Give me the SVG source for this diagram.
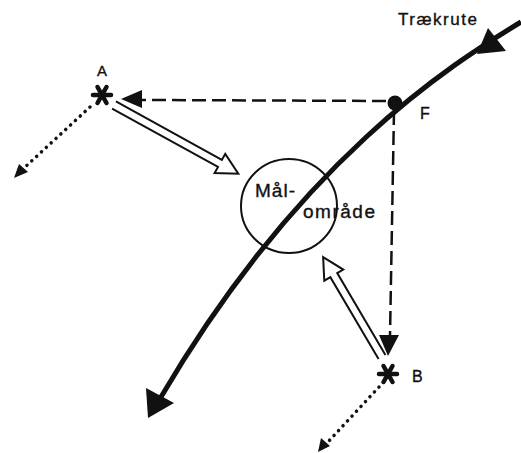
<svg xmlns="http://www.w3.org/2000/svg" width="521" height="453" viewBox="0 0 521 453">
<style>
.lbl{font-family:"Liberation Sans",Arial,sans-serif;fill:#111;stroke:#111;stroke-width:0.35;}
.dash{fill:none;stroke:#111;stroke-width:2.5;stroke-dasharray:14 6;}
.dot{fill:none;stroke:#111;stroke-width:3.5;stroke-linecap:round;stroke-dasharray:0.1 6.5;}
.hollow{fill:#fff;stroke:#111;stroke-width:2;stroke-linejoin:miter;}
.fillhead{fill:#111;}
.ast line{stroke:#111;stroke-width:4.5;stroke-linecap:round;}
</style>
<rect width="521" height="453" fill="#fff"/>
<g id="target-area">
<ellipse cx="289" cy="206" rx="48" ry="47" fill="none" stroke="#111" stroke-width="2"/>
<text class="lbl" x="255" y="197" font-size="19" textLength="40" lengthAdjust="spacing">Mål-</text>
<text class="lbl" x="303" y="218" font-size="19" textLength="72" lengthAdjust="spacing">område</text>
</g>
<g id="route">
<path d="M521,22 C450,65 300,160 161,397" fill="none" stroke="#111" stroke-width="5"/>
<polygon class="fillhead" points="488,28 506,51 477,54"/>
<polygon class="fillhead" points="146,388 174,403 148,418"/>
<text class="lbl" x="398" y="25" font-size="17" textLength="79" lengthAdjust="spacing">Trækrute</text>
</g>
<g id="F">
<circle cx="395" cy="103" r="7.5" fill="#111"/>
<text class="lbl" x="420" y="119" font-size="16">F</text>
</g>
<g id="A">
<g class="ast" transform="translate(102,95)">
<line x1="-9" y1="0" x2="9" y2="0"/>
<line x1="-4.5" y1="-8" x2="4.5" y2="8"/>
<line x1="4.5" y1="-8" x2="-4.5" y2="8"/>
</g>
<text class="lbl" x="97" y="76" font-size="15">A</text>
</g>
<g id="B">
<g class="ast" transform="translate(388,374)">
<line x1="-9" y1="0" x2="9" y2="0"/>
<line x1="-4.5" y1="-8" x2="4.5" y2="8"/>
<line x1="4.5" y1="-8" x2="-4.5" y2="8"/>
</g>
<text class="lbl" x="412" y="382" font-size="16">B</text>
</g>
<g id="connectors">
<line class="dash" x1="386" y1="101" x2="142" y2="100"/>
<polygon class="fillhead" points="121,99 142,90 142,108"/>
<line class="dash" x1="394" y1="111" x2="390" y2="336"/>
<polygon class="fillhead" points="379,335 399,335 388,356"/>
<line class="dot" x1="90" y1="107" x2="24" y2="168"/>
<polygon class="fillhead" points="14,178 19,164 28,172"/>
<line class="dot" x1="379" y1="387" x2="327" y2="443"/>
<polygon class="fillhead" points="318,452 321,438 330,446"/>
<path class="hollow" transform="translate(114,105) rotate(28.9)" d="M0,-4 H121 V-11 L142,0 L121,11 V4 H0"/>
<path class="hollow" transform="translate(382,357) rotate(-120.5)" d="M0,-4 H95 V-11 L116,0 L95,11 V4 H0"/>
</g>
</svg>
